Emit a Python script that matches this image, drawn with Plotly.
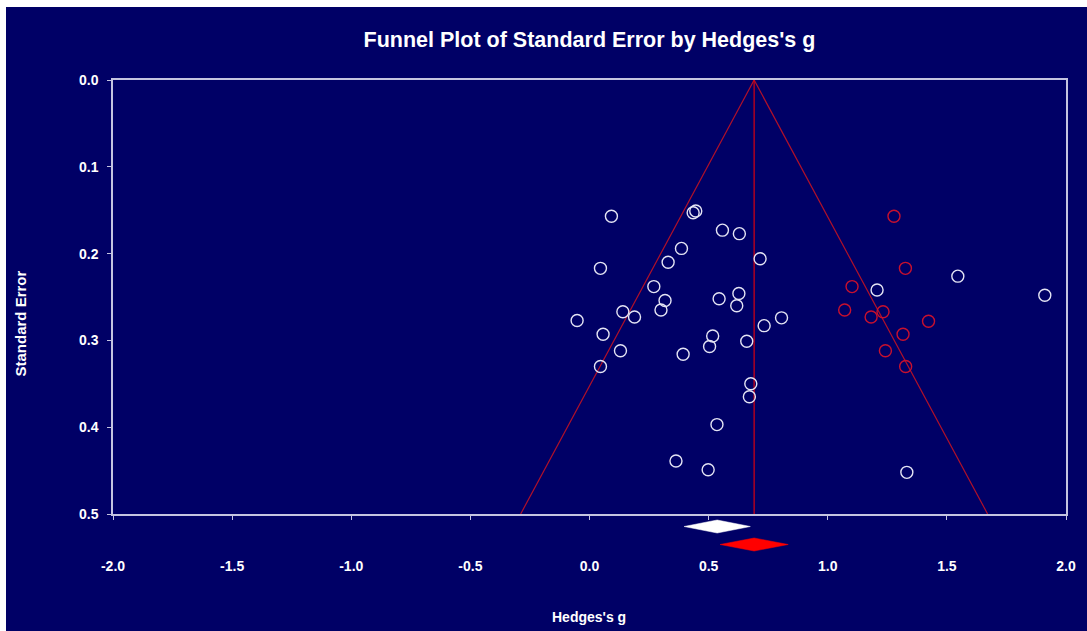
import plotly.graph_objects as go

# ---- data ----
obs_g = [0.092, 0.435, 0.446, 0.558, 0.629, 0.386, 0.716, 0.330, 0.046, 0.270,
         0.317, 0.627, 0.544, 0.618, 0.300, 0.140, 0.189, -0.052, 0.806, 0.733,
         0.057, 0.517, 0.504, 0.660, 0.130, 0.393, 0.046, 0.677, 0.671, 0.535,
         0.363, 0.498, 1.546, 1.207, 1.911, 1.332]
obs_se = [0.157, 0.153, 0.151, 0.173, 0.177, 0.194, 0.206, 0.210, 0.217, 0.238,
          0.254, 0.246, 0.252, 0.260, 0.265, 0.267, 0.273, 0.277, 0.274, 0.283,
          0.293, 0.295, 0.307, 0.301, 0.312, 0.316, 0.330, 0.350, 0.365, 0.397,
          0.439, 0.449, 0.226, 0.242, 0.248, 0.452]
imp_g = [1.278, 1.326, 1.102, 1.071, 1.182, 1.232, 1.423, 1.316, 1.242, 1.327]
imp_se = [0.157, 0.217, 0.238, 0.265, 0.273, 0.267, 0.278, 0.293, 0.312, 0.330]

adjusted_mean = 0.691
obs_est, obs_lo, obs_hi = 0.536, 0.397, 0.675
adj_est, adj_lo, adj_hi = 0.691, 0.548, 0.834
max_se = 0.5

x_ticks = [-2.0, -1.5, -1.0, -0.5, 0.0, 0.5, 1.0, 1.5, 2.0]
y_ticks = [0.0, 0.1, 0.2, 0.3, 0.4, 0.5]

# ---- style ----
NAVY = "#000066"
FRAME = "#C4C4E0"
FONT = "Liberation Sans, Arial, sans-serif"
W, H = 1087, 631
ML, MR, MT, MB = 113, 21, 80, 71
PW, PH = W - ML - MR, H - MT - MB
main_bottom_px = 514
split = (H - MB - main_bottom_px) / PH

fig = go.Figure()

# funnel
z = 1.96
fig.add_trace(go.Scatter(
    x=[adjusted_mean - z * max_se, adjusted_mean, adjusted_mean + z * max_se],
    y=[max_se, 0, max_se], mode="lines",
    line=dict(color="#B0102A", width=1.2), hoverinfo="skip", xaxis="x", yaxis="y"))
fig.add_trace(go.Scatter(
    x=[adjusted_mean, adjusted_mean], y=[0, max_se], mode="lines",
    line=dict(color="#D80010", width=1.2), hoverinfo="skip", xaxis="x", yaxis="y"))

# studies
fig.add_trace(go.Scatter(
    x=obs_g, y=obs_se, mode="markers",
    marker=dict(symbol="circle-open", size=12, color="#E4E4F4", line=dict(width=1.4)),
    xaxis="x", yaxis="y"))
fig.add_trace(go.Scatter(
    x=imp_g, y=imp_se, mode="markers",
    marker=dict(symbol="circle-open", size=12, color="#C8102E", line=dict(width=1.4)),
    xaxis="x", yaxis="y"))

# diamonds (y2 in pixel-like units, 0 at bottom of strip)
def diamond(est, lo, hi, yc, h, color):
    fig.add_trace(go.Scatter(
        x=[lo, est, hi, est, lo], y=[yc, yc + h, yc, yc - h, yc],
        mode="lines", fill="toself", fillcolor=color,
        line=dict(color=color, width=0.5), hoverinfo="skip",
        xaxis="x2", yaxis="y2"))

strip_h = H - MB - main_bottom_px
diamond(obs_est, obs_lo, obs_hi, (H - MB) - 526.5, 6.5, "#FFFFFF")
diamond(adj_est, adj_lo, adj_hi, (H - MB) - 544.5, 6.5, "#FF0000")

tickfont = dict(family=FONT, size=14, color="white", weight="bold")

fig.update_layout(
    width=W, height=H,
    margin=dict(l=ML, r=MR, t=MT, b=MB, pad=0),
    paper_bgcolor=NAVY, plot_bgcolor=NAVY,
    showlegend=False,
    title=dict(text="Funnel Plot of Standard Error by Hedges's g",
               font=dict(family=FONT, size=21.5, color="white", weight="bold"),
               x=0.5, xref="paper", xanchor="center",
               y=1 - 39 / H, yref="container", yanchor="middle"),
    xaxis=dict(range=[-2, 2], domain=[0, 1], anchor="y",
               tickvals=x_ticks, ticktext=[f"{v:.1f}" for v in x_ticks],
               ticks="outside", ticklen=4, tickcolor=FRAME, tickwidth=1.2,
               ticklabelstandoff=34,
               showline=True, linecolor=FRAME, linewidth=1.5, mirror=True,
               showgrid=False, zeroline=False, tickfont=tickfont),
    yaxis=dict(range=[max_se, 0], domain=[split, 1], anchor="x",
               tickvals=y_ticks, ticktext=[f"{v:.1f}" for v in y_ticks],
               ticks="outside", ticklen=4, tickcolor=FRAME, tickwidth=1.2,
               ticklabelstandoff=6,
               showline=True, linecolor=FRAME, linewidth=1.5, mirror=True,
               showgrid=False, zeroline=False, tickfont=tickfont),
    xaxis2=dict(matches="x", anchor="y2", domain=[0, 1], visible=False),
    yaxis2=dict(range=[0, strip_h], domain=[0, split], anchor="x2", visible=False),
    annotations=[
        dict(text="Hedges's g", xref="paper", yref="paper",
             x=(588.7 - ML) / PW, y=((H - MB) - 617) / PH,
             xanchor="center", yanchor="middle", showarrow=False,
             font=dict(family=FONT, size=14, color="white", weight="bold")),
        dict(text="Standard Error", xref="paper", yref="paper", textangle=-90,
             x=(19.5 - ML) / PW, y=((H - MB) - 324) / PH,
             xanchor="center", yanchor="middle", showarrow=False,
             font=dict(family=FONT, size=15, color="white", weight="bold")),
    ],
    shapes=[
        dict(type="rect", xref="paper", yref="paper", layer="above",
             x0=-ML / PW, x1=(6 - ML) / PW, y0=-MB / PH - 0.01, y1=1 + MT / PH + 0.01,
             fillcolor="white", line=dict(width=0)),
        dict(type="rect", xref="paper", yref="paper", layer="above",
             x0=-ML / PW - 0.01, x1=1 + MR / PW + 0.01,
             y0=1 + (MT - 7) / PH, y1=1 + MT / PH + 0.01,
             fillcolor="white", line=dict(width=0)),
    ],
    hovermode=False,
)

fig.write_html("out.html", config={"displayModeBar": False})
